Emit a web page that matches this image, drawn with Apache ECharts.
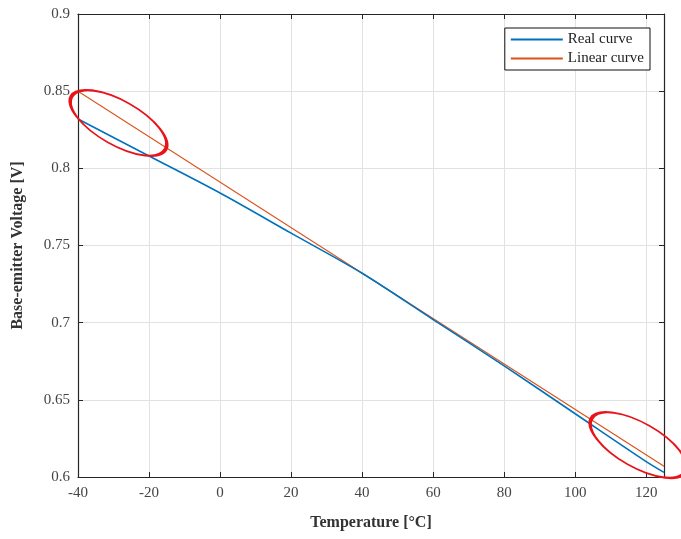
<!DOCTYPE html>
<html><head><meta charset="utf-8">
<script src="https://cdn.jsdelivr.net/npm/echarts@6/dist/echarts.min.js"></script>
<style>html,body{margin:0;padding:0;background:#fff}#c{width:681px;height:539px}</style>
</head><body><div id="c"></div>
<script>
var temps = [-40, -20, 0, 20, 40, 60, 80, 100, 120, 125];
var realCurve = [0.832, 0.808, 0.784, 0.758, 0.732, 0.702, 0.672, 0.641, 0.610, 0.603];
var linearTemps = [-40, 125];
var linearCurve = [0.850, 0.607];
var xTicks = [-40, -20, 0, 20, 40, 60, 80, 100, 120];
var yTicks = [0.6, 0.65, 0.7, 0.75, 0.8, 0.85, 0.9];
// annotation ellipses (data-space centers)
var ellipseCenters = [[-28.6, 0.8294], [117.8, 0.6207]];

var font = 'Liberation Serif';
var chart = echarts.init(document.getElementById('c'));
function axisCommon() {
  return {
    axisLine: {show: true, onZero: false, lineStyle: {color: '#262626', width: 1.2}},
    axisTick: {show: true, inside: true, length: 5, lineStyle: {color: '#262626'}}
  };
}
chart.setOption({
  animation: false,
  grid: {left: 78, right: 17, top: 14, bottom: 62, show: false},
  legend: {
    right: 31, top: 28, orient: 'vertical', itemWidth: 52, itemHeight: 2, itemGap: 4,
    padding: [4, 6, 4, 6], borderColor: '#111', borderWidth: 1, backgroundColor: '#fff',
    textStyle: {fontFamily: font, fontSize: 15, color: '#222'},
    icon: 'rect', data: ['Real curve', 'Linear curve']
  },
  xAxis: [Object.assign({
    type: 'value', min: -40, max: 125, interval: 20,
    name: 'Temperature [°C]', nameLocation: 'middle', nameGap: 38,
    nameTextStyle: {fontFamily: font, fontSize: 16, fontWeight: 'bold', color: '#333'},
    axisLabel: {fontFamily: font, fontSize: 15, color: '#444', showMaxLabel: false, margin: 9},
    splitLine: {show: true, lineStyle: {color: '#e2e2e2'}}
  }, axisCommon()), Object.assign({
    type: 'value', min: -40, max: 125, interval: 20, position: 'top',
    axisLabel: {show: false}, splitLine: {show: false}
  }, axisCommon())],
  yAxis: [Object.assign({
    type: 'value', min: 0.6, max: 0.9, interval: 0.05,
    name: 'Base-emitter Voltage [V]', nameLocation: 'middle', nameGap: 52,
    nameTextStyle: {fontFamily: font, fontSize: 16, fontWeight: 'bold', color: '#333'},
    axisLabel: {fontFamily: font, fontSize: 15, color: '#444', margin: 8,
      formatter: function (v) { return String(+v.toFixed(2)); }},
    splitLine: {show: true, lineStyle: {color: '#e2e2e2'}}
  }, axisCommon()), Object.assign({
    type: 'value', min: 0.6, max: 0.9, interval: 0.05, position: 'right',
    axisLabel: {show: false}, splitLine: {show: false}
  }, axisCommon())],
  series: [
    {name: 'Real curve', type: 'line', showSymbol: false, smooth: 0.3,
     data: temps.map(function (t, i) { return [t, realCurve[i]]; }),
     lineStyle: {color: '#0072BD', width: 1.6}, itemStyle: {color: '#0072BD'}, z: 3},
    {name: 'Linear curve', type: 'line', showSymbol: false,
     data: linearTemps.map(function (t, i) { return [t, linearCurve[i]]; }),
     lineStyle: {color: '#D95319', width: 1.1}, itemStyle: {color: '#D95319'}, z: 2}
  ]
});
var gr = ellipseCenters.map(function (c) {
  var p = chart.convertToPixel({xAxisIndex: 0, yAxisIndex: 0}, c);
  return {type: 'circle', x: p[0], y: p[1], rotation: -0.515, scaleX: 1, scaleY: 0.41,
    shape: {cx: 0, cy: 0, r: 54}, z: 100,
    style: {fill: 'none', stroke: '#e8141a', lineWidth: 2.5, strokeNoScale: true}};
});
chart.setOption({graphic: gr});
</script></body></html>
